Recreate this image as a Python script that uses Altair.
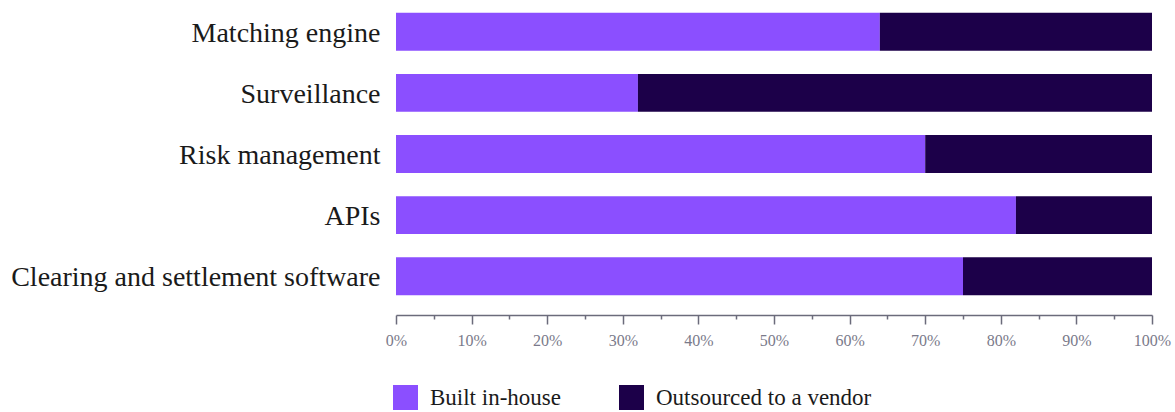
import altair as alt
import pandas as pd

categories = ["Matching engine", "Surveillance", "Risk management", "APIs",
              "Clearing and settlement software"]
built_in_house = [64, 32, 70, 82, 75]
outsourced = [36, 68, 30, 18, 25]
series_names = ["Built in-house", "Outsourced to a vendor"]
series_colors = ["#8B4FFF", "#1C0049"]
tick_values = list(range(0, 101, 5))

rows = []
for c, b, o in zip(categories, built_in_house, outsourced):
    rows.append({"category": c, "series": series_names[0], "value": b, "order": 0})
    rows.append({"category": c, "series": series_names[1], "value": o, "order": 1})
df = pd.DataFrame(rows)

FONT = "Liberation Serif"

chart = alt.Chart(df).mark_bar().encode(
    y=alt.Y("category:N", sort=categories,
            scale=alt.Scale(paddingInner=0.38, paddingOuter=0.21),
            axis=alt.Axis(title=None, domain=False, ticks=False, labelPadding=16,
                          labelFontSize=28, labelFont=FONT, labelColor="#1a1a1a",
                          labelLimit=0, labelOffset=2)),
    x=alt.X("value:Q", stack="zero",
            scale=alt.Scale(domain=[0, 100], nice=False),
            axis=alt.Axis(title=None, grid=False, values=tick_values, offset=7,
                          domainColor="#6b6b7b", domainWidth=1.5,
                          tickColor="#6b6b7b", tickWidth=1.5,
                          tickSize={"condition": {"test": "datum.value % 10 !== 0", "value": 4}, "value": 9},
                          labelExpr="datum.value % 10 === 0 ? datum.value + '%' : ''",
                          labelFont=FONT, labelFontSize=16, labelColor="#7a7a8a",
                          labelPadding=8, labelFlush=False, labelOverlap=False)),
    color=alt.Color("series:N",
                    scale=alt.Scale(domain=series_names, range=series_colors),
                    legend=alt.Legend(title=None, orient="none", legendX=-3, legendY=385,
                                      direction="horizontal", symbolType="square",
                                      symbolSize=625, symbolStrokeWidth=0, symbolOpacity=1,
                                      labelFont=FONT, labelFontSize=23, labelColor="#1a1a1a",
                                      labelOffset=12, columnPadding=58, padding=0,
                                      labelLimit=0)),
    order=alt.Order("order:Q"),
).properties(
    width=756, height=308,
    padding={"left": 396, "top": 0, "right": 23, "bottom": 104},
    autosize="none",
).configure_view(stroke=None)

chart.save("out.html", embed_options={"renderer": "svg", "actions": False})
